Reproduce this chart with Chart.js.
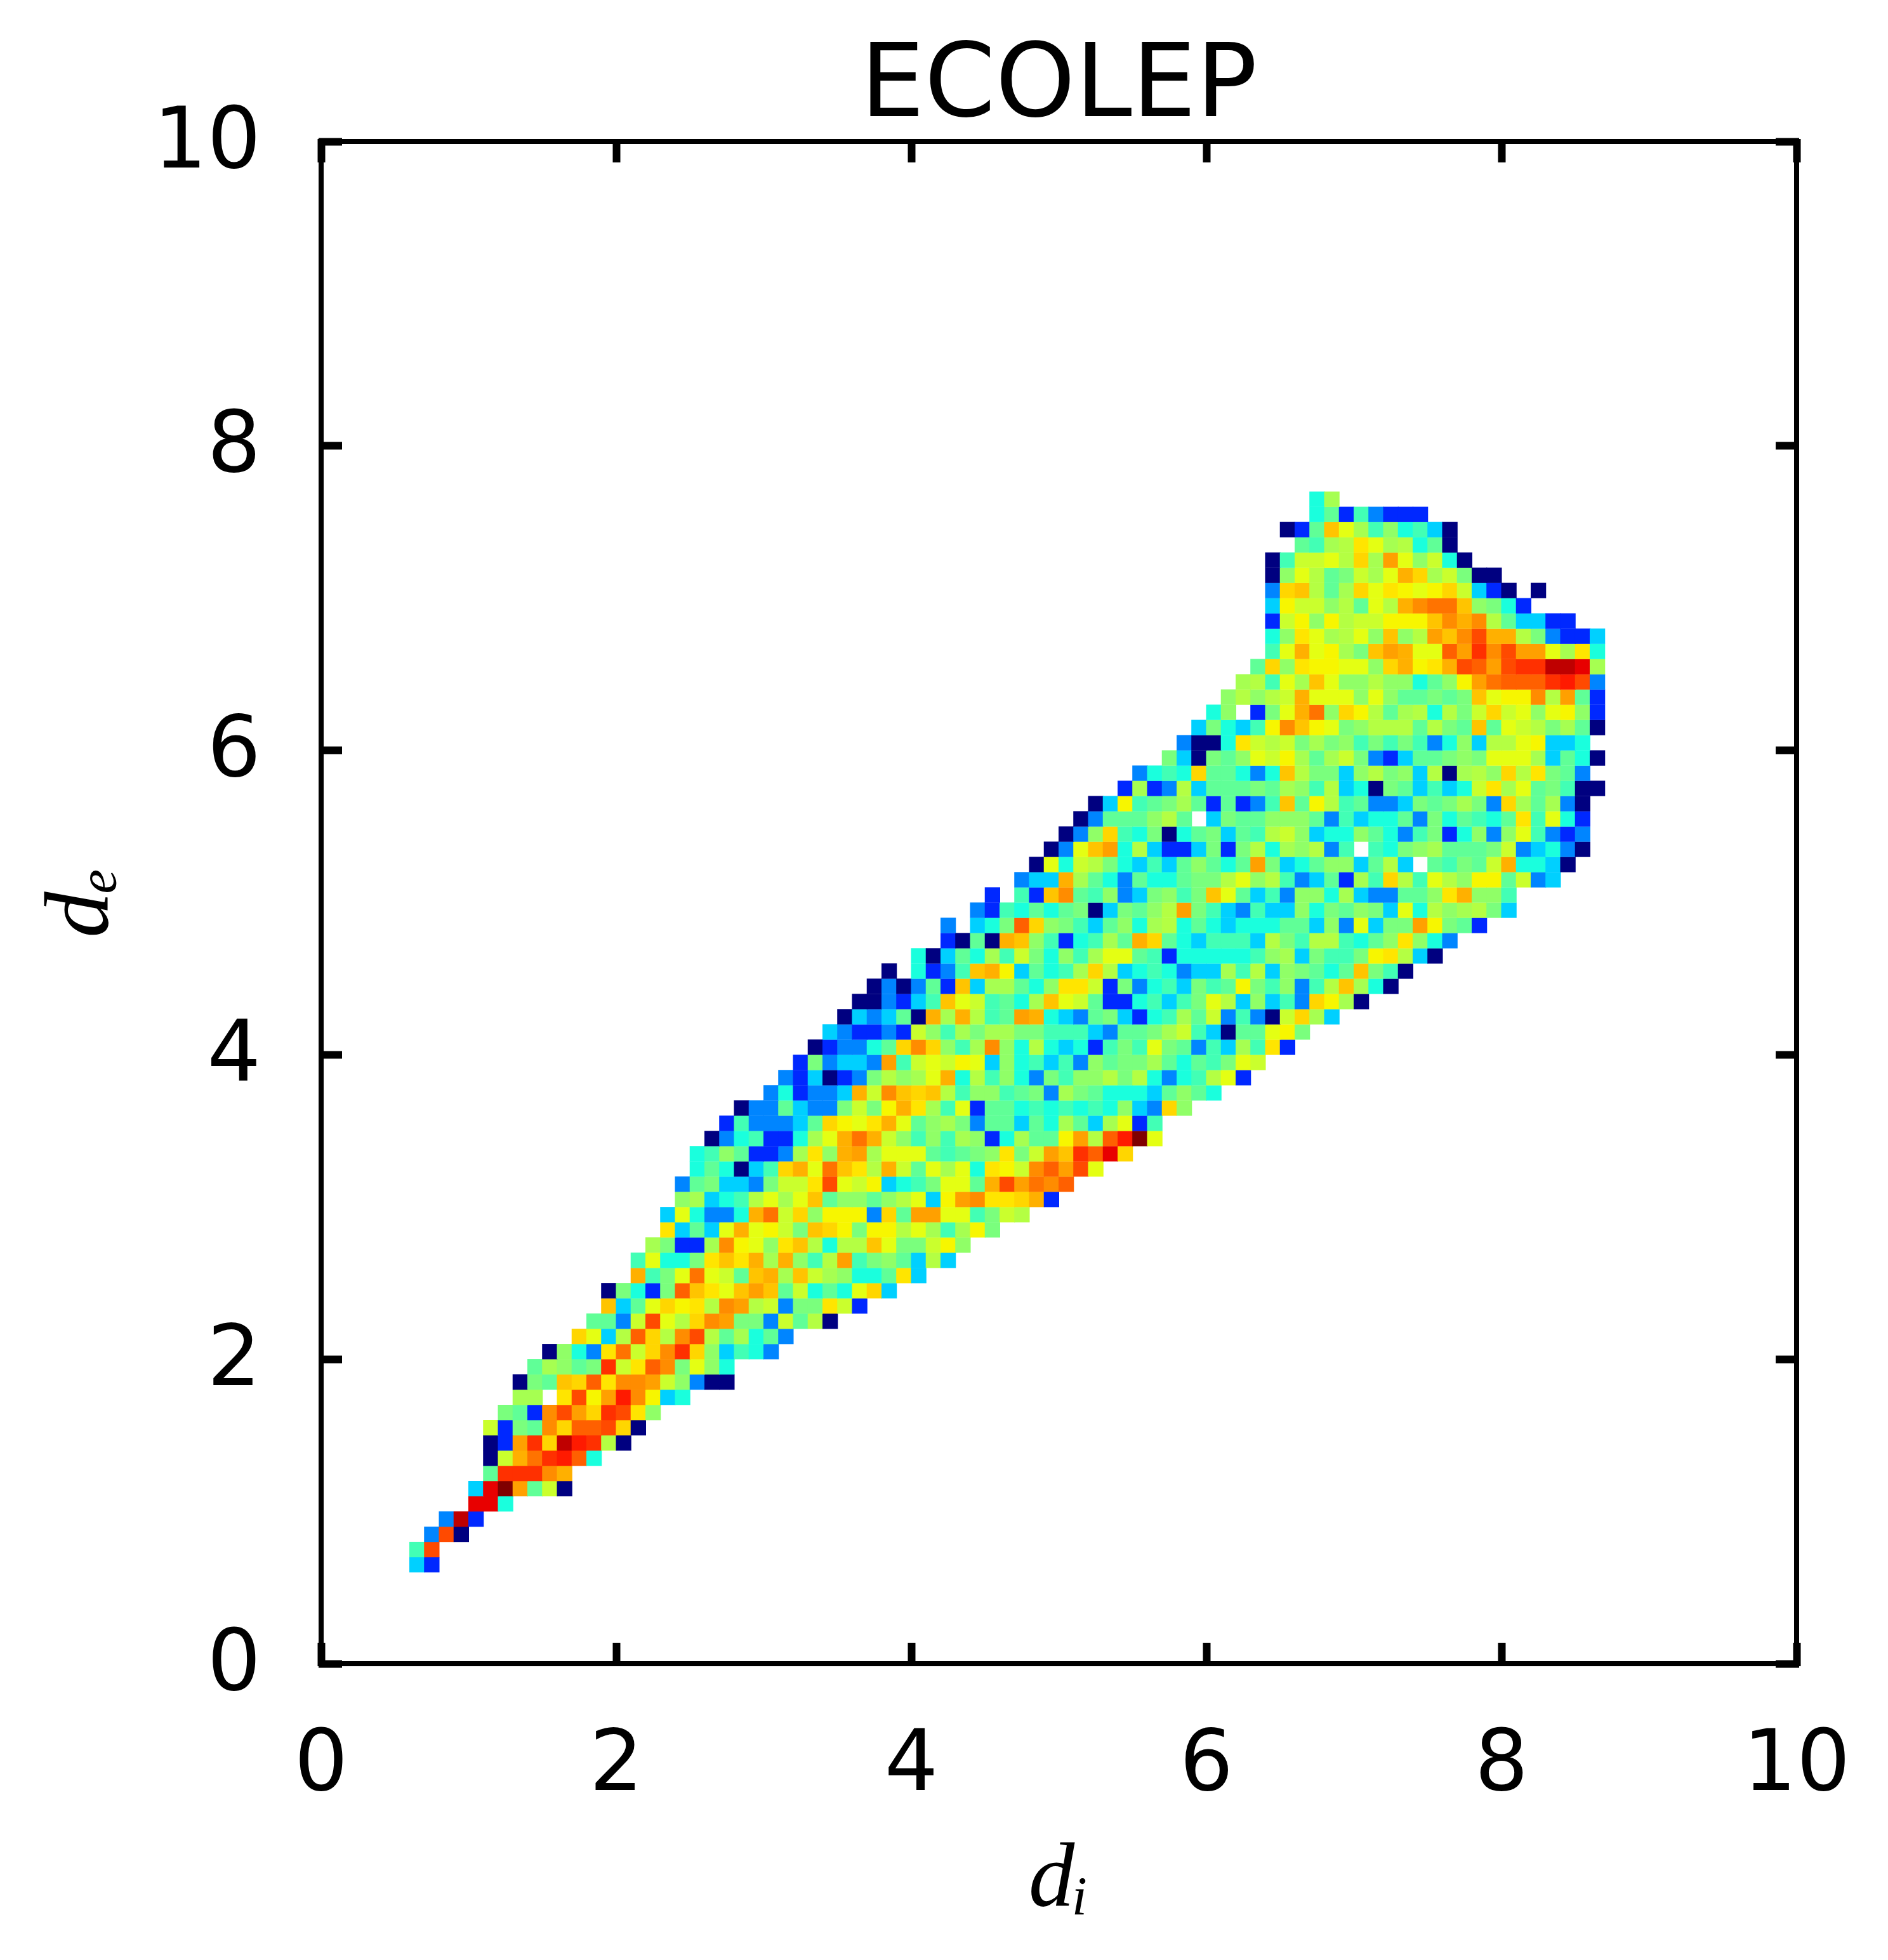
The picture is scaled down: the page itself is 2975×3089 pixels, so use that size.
<!DOCTYPE html>
<html><head><meta charset="utf-8">
<style>html,body{margin:0;padding:0;background:#fff}canvas{display:block}</style>
<script src="https://cdn.jsdelivr.net/npm/chart.js@4"></script></head>
<body><canvas id="c" width="2975" height="3089" style="width:2975px;height:3089px"></canvas>
<script>
const chartTitle = "ECOLEP";
const xAxisTitle = "d\u1D62";
const yAxisTitle = "d\u2091";
const tickValues = [0, 2, 4, 6, 8, 10];
const binSize = 0.1;
const firstRowDe = 0.6;
// density class keys and their position on the jet scale
const levelKeys = "abcdefghijklmnopqrstuvwxyzAB";
const levelValues = [0,.164,.255,.329,.381,.43,.467,.498,.525,.552,.569,.595,.627,.65,.667,.683,.702,.724,.741,.762,.788,.808,.832,.859,.883,.91,.945,1];
// first d_i bin (in bins) for every d_e row, from d_e = 0.6 upward
const rowStart = [6,6,7,8,10,10,11,11,11,11,12,13,13,14,15,17,18,19,19,21,21,22,23,23,24,24,25,25,26,27,28,30,31,32,33,34,35,36,37,38,40,42,42,44,45,47,48,49,50,51,52,54,55,57,58,59,60,61,62,63,64,64,64,64,64,64,64,66,65,67,67];
const rowCells = [
"db","fw","cwa","cAb","zze","dzBsgla","gxxxtr","alruxyve","absxpAyxka","lbhgtpvvwpa","hgbtwspxwoi","jj.ownsytnde",
"ahgqpvottslicaa","gjighxlovthmie","aiecoulptxpidfec","pmdkvpktwkgjegc","ggclwmkptshhclgka","qdgmpnoktsklchholb",
"ahebhvqomqsqglegempd","rfhmumlgqrjqljieegod","fmeehoqorjrifksfhigdkd","jhbbjtnmioqkekkqmhhlni",
"odgdmrmnlhqpnhnnkmjfjnh","dmeccerulpinnncpgssmmfhlk","ijdefkmjmqgiigikmdnstooprb",
"cghddchllowmlndefhmmgrwsutv","egeadfprmuqokrlgmjmeonltvswm","efigbbcjoirsjmmmgfghiohlsqxvzp",
"acefbbejmrurlififjibejggnskvyBm","bfcccdgpnmormgijhcggdgejgdjmbf","accgdcchlhnrojfmbggefefefeidcpi",
"cebccdrltqpqkfiifghcjhgeeedgige","cbdabchkijmrekfiechfiikhkecefkmb","bhcddcsflmlnmdiefdfcighhjgegfhml",
"abccegptpifjtiekedebfhfmhgcfdjfob","dcbbcblifjhjjhhfffdcgghjlfdaggmnh","adcdgarjrkfgsredcghdbefjglcfcalpjd",
"aacbdfqmlfgejqmlgbbefdfhmkdidfcpnja","acacgbqdjjgeioolbhcefdhfgnhficfkqjea","a.ebcfqrndgefjpkdefecddjfkdihgegqhfa",
"eadgejflheifjmmgfbeeeeefijdhffhnokda","bagarqifbefjgrpgedfffdkhfkkfegioiec","c.dehvpihfdgiejkegedeeeggdicmdhhsnhgb",
"cbfegeghadhgikshfdcfddiehgihdmekijkhd","b.fbqtgficdhifhqmgdfciiejdccggioriif",
"cddrjgecgeeghhkmikfcdgbjfpkfmkinnglcd","amelkhedfdgigegshdegiidgkd.gfhglreeda",
"acmqsekdbbdhbhkejikcf.fehijggghlcdeca","acipfehaeghdgfklideeigecfhbeicimfcbc","acgggikg.dhggiiigcfdeegchegfegofmeb",
"adnfghjgbgbcfqgnkfgccdhghjhcpjgjca","bjbckdggghgjifkdeahgdfdelojmghfaa","cefepggeceqkhhdikhidkajkipkohgc",
"hdahgimlnjgjlhcbdgghihmmmjdgea","caaeolklhjhifhfhfceidkkmndde","dhedfntqnmhikkkgkhgqgmlkhjga","ei.bhmruipnkgjkekhlplmimnib",
"ikiklrmmmimigghghqmnntksgb","jkfmjqmiikiiegiinsuvvvxywc".replace("ii"+"ns","ins"),"gpionnmmiprnorwvswxxAAzj",
"fmrmnjhqsrmmvsxtwssmjoe","eiomjkmiqiksqtwrrkhcbbd","blninkllnnnqtrtkgddbb","dnllikgmkrtuuqiheb",
"cpqkgjpmonmnpldba.a","aimkghljmrpjlhaa","afllmkpjsmilea","gfjkomjkega","abgqmjfiefda","egbfcbbb","ej"];

function jetChannel(t, pts){
  for(let i=1;i<pts.length;i++){
    if(t<=pts[i][0]){const a=pts[i-1],b=pts[i];return a[1]+(b[1]-a[1])*(t-a[0])/(b[0]-a[0]);}
  }
  return pts[pts.length-1][1];
}
function jet(t){
  const r=jetChannel(t,[[0,0],[.35,0],[.66,1],[.89,1],[1,.5]]);
  const g=jetChannel(t,[[0,0],[.125,0],[.375,1],[.64,1],[.91,0],[1,0]]);
  const b=jetChannel(t,[[0,.5],[.11,1],[.34,1],[.65,0],[1,0]]);
  return `rgb(${Math.round(r*255)},${Math.round(g*255)},${Math.round(b*255)})`;
}
const cellPoints=[], cellColors=[];
rowCells.forEach((row,r)=>{
  [...row].forEach((ch,i)=>{
    const k=levelKeys.indexOf(ch);
    if(k<0) return;
    cellPoints.push({x:(rowStart[r]+i)*binSize+binSize/2,y:firstRowDe+r*binSize+binSize/2});
    cellColors.push(jet(levelValues[k]));
  });
});
const plot={left:506,right:2831,top:223,bottom:2622};
const W=2975,H=3089;
const black="#000";
function axisBase(extra){
  return Object.assign({type:"linear",min:0,max:10,
    border:{display:true,color:black,width:8},
    grid:{drawOnChartArea:false,drawTicks:true,tickLength:-33,tickWidth:12,tickColor:black}},extra);
}
const tickFont={family:"'DejaVu Sans'",size:133};
const stepTicks=()=>tickValues.map(v=>({value:v}));
const noPad=s=>{s.paddingLeft=0;s.paddingRight=0;s.paddingTop=0;s.paddingBottom=0;};
new Chart(document.getElementById("c"),{
  type:"scatter",
  data:{datasets:[{label:"ECOLEP",data:cellPoints,backgroundColor:cellColors,borderWidth:0,hoverRadius:0,
    pointStyle:"rect",
    pointRadius:ctx=>(ctx.chart.scales.y.height*binSize/10+0.3)/Math.SQRT2}]},
  options:{responsive:false,animation:false,devicePixelRatio:1,events:[],
    layout:{padding:0},
    plugins:{legend:{display:false},tooltip:{enabled:false},
      title:{display:true,text:chartTitle,fullSize:false,color:black,
        font:{family:"'DejaVu Sans'",size:160,weight:"normal",lineHeight:1},padding:{top:61,bottom:0}}},
    scales:{
      x:axisBase({position:"bottom",
        afterFit:s=>{s.height=H-plot.bottom;noPad(s)},
        afterBuildTicks:s=>{s.ticks=stepTicks()},
        ticks:{color:black,font:tickFont,padding:118,maxRotation:0,autoSkip:false},
        title:{display:true,text:xAxisTitle,color:black,font:{family:"'Liberation Serif'",size:145,style:"italic",lineHeight:1.2},padding:{top:0,bottom:36}}}),
      y:axisBase({position:"left",
        afterFit:s=>{s.width=plot.left;noPad(s)},
        afterBuildTicks:s=>{s.ticks=stepTicks()},
        ticks:{color:black,font:tickFont,padding:128,labelOffset:6,autoSkip:false},
        title:{display:true,text:yAxisTitle,color:black,font:{family:"'Liberation Serif'",size:145,style:"italic",lineHeight:1.2},padding:{top:45,bottom:0}}}),
      x2:axisBase({position:"top",
        afterFit:s=>{s.height=plot.top-221;noPad(s)},
        afterBuildTicks:s=>{s.ticks=stepTicks()},
        ticks:{display:false}}),
      y2:axisBase({position:"right",
        afterFit:s=>{s.width=W-plot.right;noPad(s)},
        afterBuildTicks:s=>{s.ticks=stepTicks()},
        ticks:{display:false}})
    }}
});
</script></body></html>
